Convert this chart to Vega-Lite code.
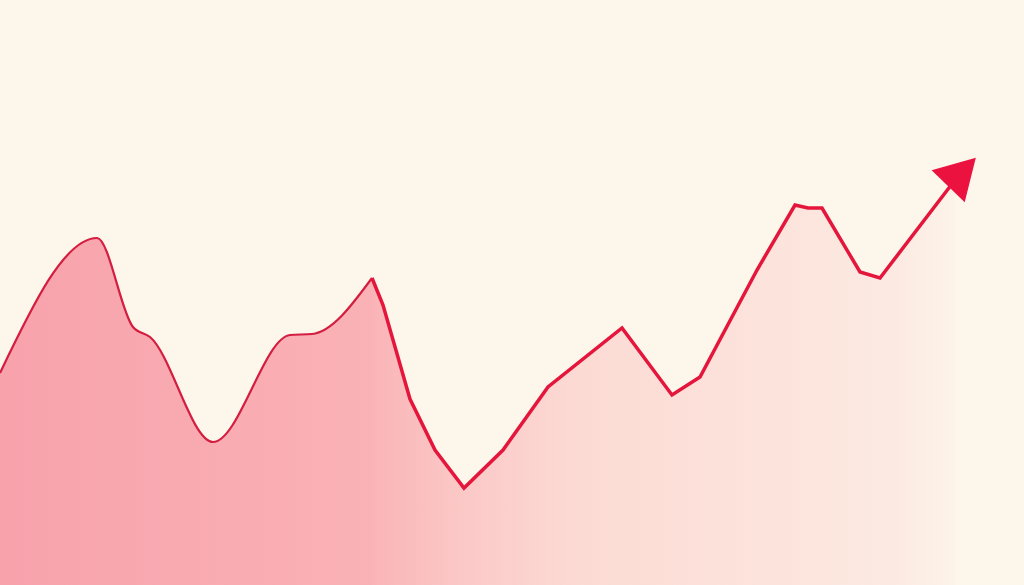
{
  "$schema": "https://vega.github.io/schema/vega-lite/v6.json",
  "width": 1024,
  "height": 585,
  "autosize": "none",
  "padding": 0,
  "background": "#fdf6eb",
  "config": {"view": {"stroke": null}},
  "datasets": {
    "series": [
      {"x": 0, "y": 212, "part": "left"},
      {"x": 97, "y": 347, "part": "left"},
      {"x": 133, "y": 258, "part": "left"},
      {"x": 150, "y": 248, "part": "left"},
      {"x": 213, "y": 143, "part": "left"},
      {"x": 290, "y": 250, "part": "left"},
      {"x": 312, "y": 251, "part": "left"},
      {"x": 372, "y": 307, "part": "left"},
      {"x": 372, "y": 307, "part": "right"},
      {"x": 383, "y": 280, "part": "right"},
      {"x": 410, "y": 186, "part": "right"},
      {"x": 435, "y": 135, "part": "right"},
      {"x": 464, "y": 97, "part": "right"},
      {"x": 503, "y": 135, "part": "right"},
      {"x": 548, "y": 198, "part": "right"},
      {"x": 622, "y": 257, "part": "right"},
      {"x": 672, "y": 190, "part": "right"},
      {"x": 700, "y": 208, "part": "right"},
      {"x": 757, "y": 315, "part": "right"},
      {"x": 795, "y": 380, "part": "right"},
      {"x": 808, "y": 377, "part": "right"},
      {"x": 822, "y": 377, "part": "right"},
      {"x": 860, "y": 313, "part": "right"},
      {"x": 880, "y": 307, "part": "right"},
      {"x": 955, "y": 405, "part": "right"}
    ],
    "arrow": [
      {"x": 962, "y": 413}
    ]
  },
  "layer": [
    {
      "data": {"name": "series"},
      "transform": [{"filter": "datum.part === 'left'"}],
      "mark": {
        "type": "area",
        "interpolate": "monotone",
        "color": {
          "gradient": "linear", "x1": 0, "x2": 1, "y1": 0, "y2": 0,
          "stops": [
            {"offset": 0, "color": "#f8a2ac"},
            {"offset": 1, "color": "#fab2b6"}
          ]
        }
      },
      "encoding": {
        "x": {"field": "x", "type": "quantitative", "scale": {"domain": [0, 1024], "nice": false, "zero": false}, "axis": null},
        "y": {"field": "y", "type": "quantitative", "scale": {"domain": [0, 585], "nice": false}, "axis": null}
      }
    },
    {
      "data": {"name": "series"},
      "transform": [{"filter": "datum.part === 'right'"}],
      "mark": {
        "type": "area",
        "interpolate": "linear",
        "color": {
          "gradient": "linear", "x1": 0, "x2": 1, "y1": 0, "y2": 0,
          "stops": [
            {"offset": 0, "color": "#fab4b8"},
            {"offset": 0.15, "color": "#fbc8c6"},
            {"offset": 0.35, "color": "#fcdad4"},
            {"offset": 0.7, "color": "#fce4dc"},
            {"offset": 0.9, "color": "#fceae2"},
            {"offset": 1, "color": "#fdf3e9"}
          ]
        }
      },
      "encoding": {
        "x": {"field": "x", "type": "quantitative"},
        "y": {"field": "y", "type": "quantitative"}
      }
    },
    {
      "data": {"name": "series"},
      "transform": [{"filter": "datum.part === 'left'"}],
      "mark": {"type": "line", "interpolate": "monotone", "color": "#d41e40", "strokeWidth": 2.2},
      "encoding": {
        "x": {"field": "x", "type": "quantitative"},
        "y": {"field": "y", "type": "quantitative"}
      }
    },
    {
      "data": {"name": "series"},
      "transform": [{"filter": "datum.part === 'right'"}],
      "mark": {"type": "line", "interpolate": "linear", "color": "#e5163c", "strokeWidth": 3.5, "strokeJoin": "miter"},
      "encoding": {
        "x": {"field": "x", "type": "quantitative"},
        "y": {"field": "y", "type": "quantitative"}
      }
    },
    {
      "data": {"name": "arrow"},
      "mark": {"type": "point", "shape": "triangle-up", "filled": true, "color": "#ec1240", "opacity": 1, "size": 2116, "angle": 44},
      "encoding": {
        "x": {"field": "x", "type": "quantitative"},
        "y": {"field": "y", "type": "quantitative"}
      }
    }
  ]
}
